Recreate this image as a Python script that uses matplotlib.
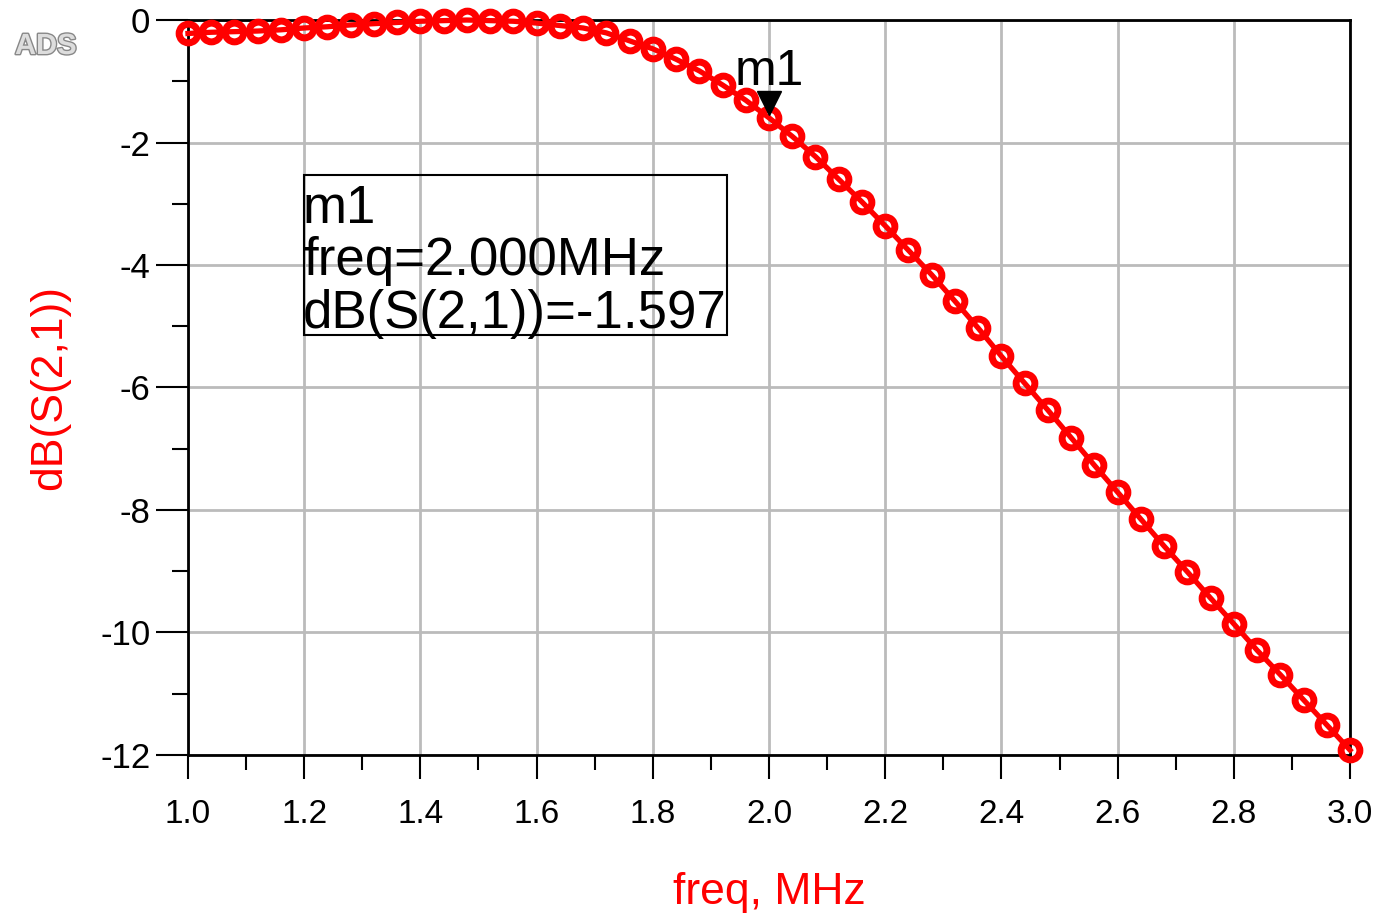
import matplotlib.pyplot as plt
from matplotlib.patches import Rectangle
import matplotlib.patheffects as pe

plt.rcParams['font.family'] = ['Liberation Sans', 'DejaVu Sans']
plt.rcParams['axes.unicode_minus'] = False

# sweep: 1.0 .. 3.0 MHz in 0.04 MHz steps
freq = [1.00, 1.04, 1.08, 1.12, 1.16, 1.20, 1.24, 1.28, 1.32, 1.36,
        1.40, 1.44, 1.48, 1.52, 1.56, 1.60, 1.64, 1.68, 1.72, 1.76,
        1.80, 1.84, 1.88, 1.92, 1.96, 2.00, 2.04, 2.08, 2.12, 2.16,
        2.20, 2.24, 2.28, 2.32, 2.36, 2.40, 2.44, 2.48, 2.52, 2.56,
        2.60, 2.64, 2.68, 2.72, 2.76, 2.80, 2.84, 2.88, 2.92, 2.96, 3.00]
s21_db = [-0.22, -0.20, -0.19, -0.18, -0.16, -0.13, -0.11, -0.08, -0.06, -0.04,
          -0.02, -0.01, 0.00, -0.01, -0.02, -0.05, -0.09, -0.13, -0.21, -0.34,
          -0.47, -0.64, -0.83, -1.06, -1.31, -1.597, -1.90, -2.23, -2.60, -2.97,
          -3.36, -3.76, -4.16, -4.59, -5.03, -5.49, -5.93, -6.37, -6.82, -7.27,
          -7.71, -8.15, -8.59, -9.01, -9.44, -9.86, -10.29, -10.69, -11.10, -11.51, -11.92]

marker_f = 2.000
marker_db = -1.597

fig = plt.figure(figsize=(13.8, 9.14), dpi=100)
ax = fig.add_axes([0.1362, 0.174, 0.8421, 0.8041])

ax.plot(freq, s21_db, color='red', linewidth=3.8, marker='o', markersize=13.5,
        markerfacecolor='none', markeredgecolor='red', markeredgewidth=5,
        zorder=3, clip_on=False)

ax.set_xlim(1.0, 3.0)
ax.set_ylim(-12, 0)
ax.set_xticks([1.0 + 0.2 * i for i in range(11)])
ax.set_xticklabels([f"{1.0 + 0.2 * i:.1f}" for i in range(11)])
ax.set_xticks([1.1 + 0.2 * i for i in range(10)], minor=True)
ax.set_yticks(range(-12, 1, 2))
ax.set_yticks(range(-11, 0, 2), minor=True)

ax.grid(True, which='major', color='#bbbbbb', linewidth=2)
ax.set_axisbelow(True)
for sp in ax.spines.values():
    sp.set_linewidth(2)
    sp.set_color('black')

ax.tick_params(axis='y', which='major', length=23, width=1.5, labelsize=25, pad=4)
ax.tick_params(axis='y', which='minor', length=11.5, width=1.5)
ax.tick_params(axis='x', which='major', length=17, width=1.5, labelsize=24, pad=15)
ax.tick_params(axis='x', which='minor', length=11, width=1.5)

ax.set_xlabel('freq, MHz', color='red', fontsize=32, labelpad=30)
ax.set_ylabel('dB(S(2,1))', color='red', fontsize=32, labelpad=22)

# marker m1
ax.plot([marker_f], [marker_db + 0.24], marker='v', color='black', markersize=17,
        zorder=4)
ax.text(marker_f, marker_db + 0.54, 'm1', fontsize=36, ha='center', va='baseline')

# marker readout box (transparent, grid shows through)
box = Rectangle((304 / 1380, 1 - 335 / 914), (727 - 304) / 1380, (335 - 175) / 914,
                transform=fig.transFigure, fill=False, edgecolor='black', linewidth=1.5)
fig.patches.append(box)
fig.text(303 / 1380, 1 - 184 / 914,
         f"m1\nfreq={marker_f:.3f}MHz\ndB(S(2,1))={marker_db:.3f}",
         fontsize=38, ha='left', va='top', linespacing=1.06)

fig.text(15 / 1380, 1 - 46 / 914, 'ADS', fontsize=21, fontweight='bold', color='#dddddd',
         va='center', path_effects=[pe.withStroke(linewidth=2, foreground='#888888')])

fig.savefig('out.png', dpi=100)
